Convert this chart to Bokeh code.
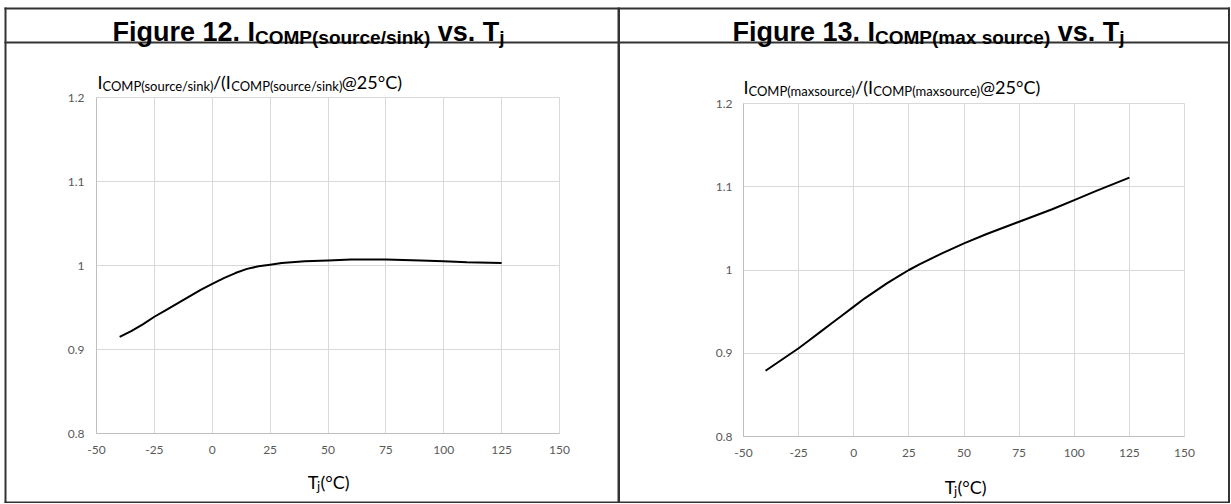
from bokeh.plotting import figure
from bokeh.models import Range1d, FixedTicker, CustomJSTickFormatter, GridBox
from bokeh.layouts import row, column
from bokeh.core.properties import value
from bokeh.embed import file_html
from bokeh.resources import INLINE

# ---------------- data ----------------
x_ticks = [-50, -25, 0, 25, 50, 75, 100, 125, 150]
x_tick_labels = ["-50", "-25", "0", "25", "50", "75", "100", "125", "150"]
y_ticks = [0.8, 0.9, 1.0, 1.1, 1.2]
y_tick_labels = ["0.8", "0.9", "1", "1.1", "1.2"]

tj_fig12 = [-40, -35, -30, -25, -20, -15, -10, -5, 0, 5, 10, 15, 20, 25, 30, 40, 50, 60, 75, 90, 100, 110, 125]
ratio_fig12 = [0.915, 0.922, 0.930, 0.939, 0.947, 0.955, 0.963, 0.971, 0.978, 0.985, 0.991, 0.996, 0.999, 1.001, 1.003, 1.005, 1.006, 1.007, 1.007, 1.006, 1.005, 1.004, 1.003]

tj_fig13 = [-40, -35, -30, -25, -20, -15, -10, -5, 0, 5, 10, 15, 20, 25, 30, 40, 50, 60, 75, 90, 100, 110, 125]
ratio_fig13 = [0.879, 0.888, 0.897, 0.906, 0.916, 0.926, 0.936, 0.946, 0.956, 0.966, 0.975, 0.984, 0.992, 1.000, 1.007, 1.020, 1.032, 1.043, 1.058, 1.073, 1.084, 1.095, 1.111]

title12 = [("Figure 12. I", False), ("COMP(source/sink)", True), (" vs. T", False), ("j", True)]
title13 = [("Figure 13. I", False), ("COMP(max source)", True), (" vs. T", False), ("j", True)]
ytitle12 = [("I", False), ("COMP(source/sink)", True), ("/(I", False), ("COMP(source/sink)", True), ("@25°C)", False)]
ytitle13 = [("I", False), ("COMP(maxsource)", True), ("/(I", False), ("COMP(maxsource)", True), ("@25°C)", False)]
xtitle = [("T", False), ("j", True), ("(°C)", False)]

# ---------------- text width estimation ----------------
CAL = {" ": 226, "(": 303, ")": 303, "/": 386, "@": 894, "°": 347, ".": 252,
       "C": 533, "O": 662, "M": 855, "P": 517, "I": 252, "T": 487,
       "a": 479, "c": 423, "e": 498, "i": 229, "j": 239, "k": 455, "m": 799,
       "n": 525, "o": 527, "r": 349, "s": 391, "u": 525, "x": 433}
ARB = {" ": 278, ".": 278, "(": 333, ")": 333, "/": 278,
       "F": 611, "I": 278, "C": 722, "O": 778, "M": 833, "P": 667, "T": 611,
       "a": 556, "c": 556, "e": 556, "g": 611, "i": 278, "j": 278, "k": 556, "m": 889,
       "n": 611, "o": 611, "r": 389, "s": 556, "u": 611, "v": 556, "x": 556}
LATO_K = 1.08


def tw(s, size, table, k):
    w = 0
    for ch in s:
        if ch.isdigit():
            w += 507 if table is CAL else 556
        else:
            w += table.get(ch, 500)
    return w / 1000.0 * size * k


TOTAL_W, H = 1230, 503

# backdrop figure: frame covers the whole canvas, data units = pixels (y down)
bg = figure(width=TOTAL_W, height=H, x_range=Range1d(0, TOTAL_W), y_range=Range1d(H, 0),
            x_axis_type=None, y_axis_type=None, title=None,
            min_border=0, min_border_left=0, min_border_right=0,
            min_border_top=0, min_border_bottom=0,
            output_backend="svg", toolbar_location=None)
bg.grid.visible = False
bg.outline_line_color = None
bg.background_fill_color = None
bg.border_fill_color = None


def rich(pieces, cx, base, font, msize, ssize, sub_drop, table, k,
         align="left", bold=False, color="#000000"):
    widths = [tw(t, ssize if s else msize, table, k) for t, s in pieces]
    total = sum(widths)
    x = cx - total / 2.0 if align == "center" else cx
    for (t, s), w in zip(pieces, widths):
        size = ssize if s else msize
        lead = len(t) - len(t.lstrip(" "))
        xs = x + tw(" " * lead, size, table, k)
        yb = base + (sub_drop if s else 0)
        bg.text(x=[xs], y=[yb], text=[t.strip(" ")], text_font=value(font),
                text_font_size=value(f"{size}px"),
                text_font_style="bold" if bold else "normal",
                text_color=color, text_align="left", text_baseline="alphabetic")
        x += w


def box(x0, y0, x1, y1, color="#333333"):
    bg.quad(left=[x0], right=[x1], top=[y0], bottom=[y1], fill_color=color, line_color=None)


JS = """
var best = 0; var bd = 1e9;
for (var i = 0; i < vals.length; i++) { var d = Math.abs(vals[i] - tick); if (d < bd) { bd = d; best = i; } }
return labs[best];
"""


def panel(W, FL, FT, FR, FB, xs, ys, ystand):
    p = figure(width=W, height=H, x_range=Range1d(-50, 150), y_range=Range1d(0.8, 1.2),
               output_backend="svg", toolbar_location=None, title=None,
               min_border_left=FL, min_border_right=W - FR,
               min_border_top=FT, min_border_bottom=H - FB)
    p.xaxis.ticker = FixedTicker(ticks=x_ticks)
    p.yaxis.ticker = FixedTicker(ticks=y_ticks)
    p.xgrid.ticker = FixedTicker(ticks=x_ticks)
    p.ygrid.ticker = FixedTicker(ticks=y_ticks)
    p.xaxis.formatter = CustomJSTickFormatter(args=dict(vals=x_ticks, labs=x_tick_labels), code=JS)
    p.yaxis.formatter = CustomJSTickFormatter(args=dict(vals=y_ticks, labs=y_tick_labels), code=JS)
    for ax in (p.xaxis, p.yaxis):
        ax.axis_line_color = "#bfbfbf"
        ax.axis_line_width = 1
        ax.major_tick_line_color = None
        ax.minor_tick_line_color = None
        ax.major_tick_out = 0
        ax.major_tick_in = 0
        ax.major_label_text_font = "Lato"
        ax.major_label_text_font_size = "12px"
        ax.major_label_text_color = "#595959"
    p.xaxis.major_label_standoff = 12
    p.yaxis.major_label_standoff = ystand
    p.grid.grid_line_color = "#d9d9d9"
    p.grid.grid_line_width = 1
    p.outline_line_color = "#d9d9d9"
    p.background_fill_color = "white"
    p.border_fill_color = "white"
    p.line(xs, ys, line_color="#000000", line_width=2)
    return p


# ---- Figure 12 panel (canvas x 0..617) ----
W1, FL1, FT1, FR1, FB1 = 617, 96, 97, 559, 433
p1 = panel(W1, FL1, FT1, FR1, FB1, tj_fig12, ratio_fig12, 12)

# ---- Figure 13 panel (canvas x 617..1230) ----
W2, FL2, FT2, FR2, FB2 = 613, 126, 103, 567, 436
p2 = panel(W2, FL2, FT2, FR2, FB2, tj_fig13, ratio_fig13, 11)

# table borders
box(4, 7, 6, 503)
box(617, 7, 619.5, 503)
box(1227.5, 7, 1229.5, 503)
box(4, 7, 1229.5, 9)
box(4, 41, 1229.5, 43)
box(4, 501, 1229.5, 503)

# titles and axis titles
rich(title12, 308, 31.5, "Liberation Sans", 27, 19, 5, ARB, 1.0, align="center", bold=True)
rich(title13, 928, 31.5, "Liberation Sans", 27, 19, 5, ARB, 1.0, align="center", bold=True)
rich(ytitle12, 97, 81, "Lato", 18, 13, 4, CAL, LATO_K)
rich(ytitle13, 743, 86, "Lato", 18, 13, 4, CAL, LATO_K)
rich(xtitle, 328, 481, "Lato", 18, 13, 4, CAL, LATO_K, align="center")
rich(xtitle, 965, 486, "Lato", 18, 13, 4, CAL, LATO_K, align="center")

charts = row(column(p1), column(p2))
overlay = column(bg)
layout = GridBox(children=[(charts, 0, 0), (overlay, 0, 0)], spacing=0)
open("out.html", "w").write(file_html(layout, INLINE))
